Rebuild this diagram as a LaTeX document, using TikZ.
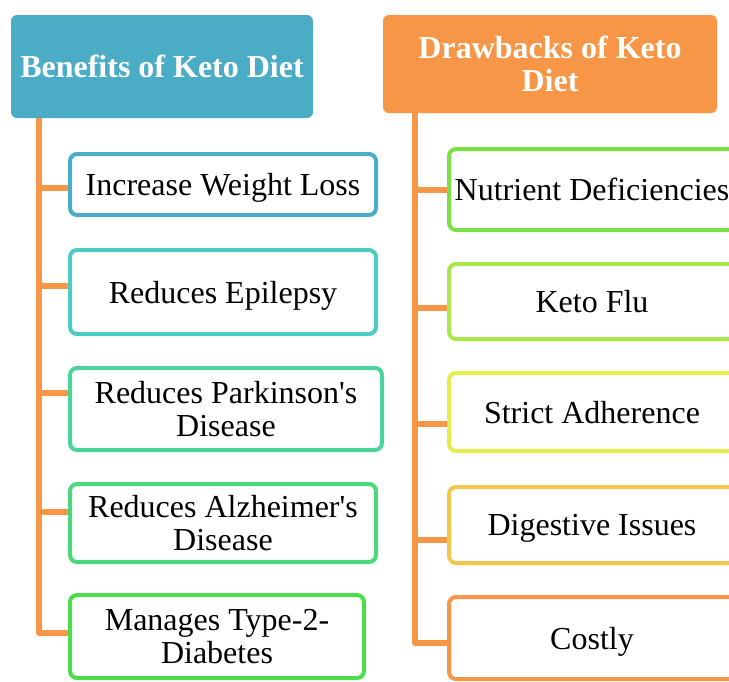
\documentclass[tikz,border=0pt]{standalone}
\usepackage{fontspec}
\setmainfont{Liberation Serif}
\usetikzlibrary{backgrounds}
\definecolor{hblue}{HTML}{4BACC6}
\definecolor{korange}{HTML}{F79646}
\definecolor{cA}{HTML}{4BACC6}
\definecolor{cB}{HTML}{4BCBC2}
\definecolor{cC}{HTML}{4AD49C}
\definecolor{cD}{HTML}{4AD87A}
\definecolor{cE}{HTML}{4CDE4A}
\definecolor{rA}{HTML}{7BE044}
\definecolor{rB}{HTML}{A8E84A}
\definecolor{rC}{HTML}{E2EE4A}
\definecolor{rD}{HTML}{F2C64A}
\definecolor{rE}{HTML}{F79646}
\tikzset{
  header/.style={fill=#1, draw=none, rounded corners=6pt, inner sep=0pt, align=center,
    text depth=0pt, text=white, font=\fontsize{32}{33}\selectfont\bfseries},
  itembox/.style={draw=#1, fill=white, line width=4pt, rounded corners=7pt, inner sep=0pt,
    align=center, text depth=0pt, font=\fontsize{32}{33}\selectfont},
  conn/.style={draw=korange, line width=6pt, line join=round}
}
\begin{document}
\begin{tikzpicture}[x=1pt,y=-1pt]
\useasboundingbox (0,0) rectangle (729,681);
% headers
\node[header=hblue, minimum width=302pt, minimum height=103pt] (hL) at (162,66.5) {Benefits of Keto Diet};
\node[header=korange, minimum width=334pt, minimum height=98pt] (hR) at (550,64) {Drawbacks of Keto\\Diet};
% left boxes
\node[itembox=cA, minimum width=306pt, minimum height=61pt] (b1) at (223,184.5) {Increase Weight Loss};
\node[itembox=cB, minimum width=306pt, minimum height=84pt] (b2) at (223,292) {Reduces Epilepsy};
\node[itembox=cC, minimum width=312pt, minimum height=82pt] (b3) at (226,409) {Reduces Parkinson\textquotesingle s\\Disease};
\node[itembox=cD, minimum width=306pt, minimum height=78pt] (b4) at (223,523) {Reduces Alzheimer\textquotesingle s\\Disease};
\node[itembox=cE, minimum width=294pt, minimum height=83pt] (b5) at (217,636.5) {Manages Type-2-\\Diabetes};
% right boxes
\node[itembox=rA, minimum width=286pt, minimum height=81pt] (r1) at (592,189.5) {Nutrient Deficiencies};
\node[itembox=rB, minimum width=286pt, minimum height=75pt] (r2) at (592,301.5) {Keto Flu};
\node[itembox=rC, minimum width=286pt, minimum height=78pt] (r3) at (592,412) {Strict Adherence};
\node[itembox=rD, minimum width=286pt, minimum height=76pt] (r4) at (592,525) {Digestive Issues};
\node[itembox=rE, minimum width=286pt, minimum height=82pt] (r5) at (592,638) {Costly};
% trunk tops and branch points
\coordinate (tL) at (39,118);
\coordinate (tR) at (415,113);
\coordinate (p1) at ([yshift=-3.5pt]b1.west);
\coordinate (p2) at ([yshift=6pt]b2.west);
\coordinate (p3) at ([yshift=16pt]b3.west);
\coordinate (p4) at ([yshift=11pt]b4.west);
\coordinate (p5) at ([yshift=3.5pt]b5.west);
\coordinate (q1) at (r1.west);
\coordinate (q2) at ([yshift=-6.5pt]r2.west);
\coordinate (q3) at ([yshift=-12pt]r3.west);
\coordinate (q4) at ([yshift=-15pt]r4.west);
\coordinate (q5) at ([yshift=-5pt]r5.west);
\begin{scope}[on background layer]
\draw[conn] (tL) -- (tL |- p5) -- (p5);
\foreach \p in {p1,p2,p3,p4}{\draw[conn] (\p) -- (\p -| tL);}
\draw[conn] (tR) -- (tR |- q5) -- (q5);
\foreach \q in {q1,q2,q3,q4}{\draw[conn] (\q) -- (\q -| tR);}
\end{scope}
\end{tikzpicture}
\end{document}
